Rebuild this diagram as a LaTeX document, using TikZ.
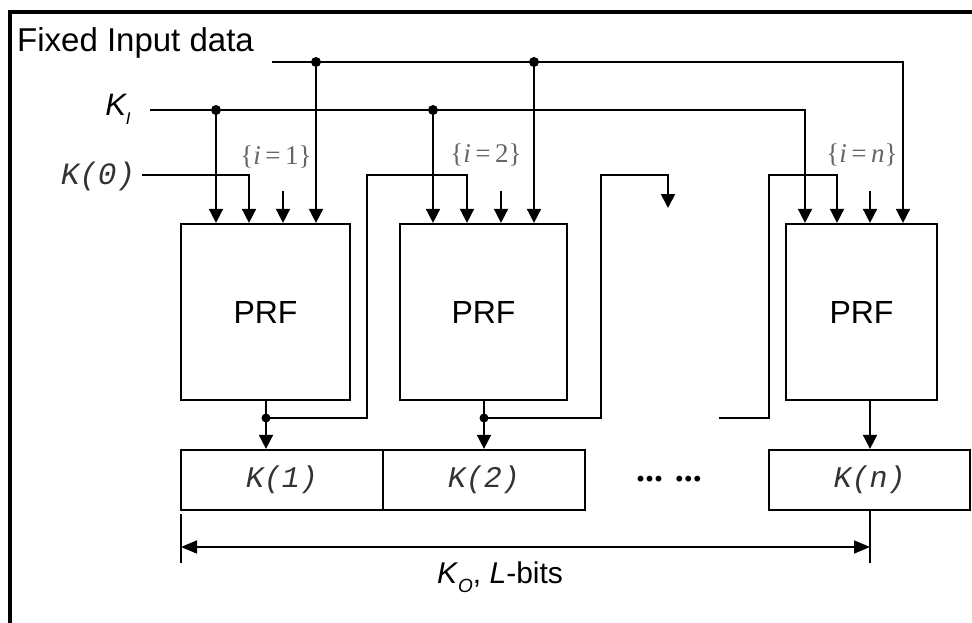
\documentclass[tikz,border=0pt]{standalone}
\usepackage{fontspec}
\setmainfont{Liberation Sans}
\newfontfamily\courfont{Liberation Mono}
\newfontfamily\timesfont{Liberation Serif}
\usetikzlibrary{arrows.meta}

\tikzset{
  wire/.style={line width=1.7pt},
  arr/.style={wire, -{Triangle[width=14pt,length=14pt]}},
  prfbox/.style={draw, line width=2.2pt, minimum width=169pt, minimum height=176pt, inner sep=0pt, font=\fontsize{32}{38}\selectfont},
  keybox/.style={draw, line width=2.2pt, minimum width=202pt, minimum height=60pt, inner sep=0pt, font=\courfont\itshape\fontsize{30}{34}\selectfont, text=black!80},
  idx/.style={font=\timesfont\fontsize{27}{30}\selectfont, text=black!60},
  junction/.style={circle, fill, inner sep=0pt, minimum size=10pt},
}

\begin{document}
\begin{tikzpicture}[x=1pt,y=1pt,yscale=-1,xscale=1]
                    \clip (0,0) rectangle (972,623);
                    %Frame
                    \draw [line width=3.5pt] (10,12) rectangle (995,660) ;

                    %Shape: PRF boxes
                    \node [prfbox] (prf1) at (265.5,312) {PRF};
                    \node [prfbox, minimum width=167pt] (prf2) at (483.5,312) {PRF};
                    \node [prfbox, minimum width=151pt] (prfn) at (861.5,312) {PRF};
                    %Shape: output key boxes
                    \node [keybox] (k1) at (282,480) {K(1)};
                    \node [keybox] (k2) at (484,480) {K(2)};
                    \node [keybox, minimum width=201pt] (kn) at (869.5,480) {K(n)};

                    % Text Node
                    \node [anchor=west, inner sep=0pt, font=\fontsize{33}{38}\selectfont] (fixlbl) at (17,43) {Fixed Input data};
                    % Text Node
                    \node [inner sep=0pt, font=\fontsize{31}{36}\selectfont] (kilbl) at (118,109) {\itshape K\raisebox{-0.3em}{\fontsize{17}{20}\selectfont I}};
                    % Text Node
                    \node [inner sep=0pt, font=\courfont\itshape\fontsize{31}{36}\selectfont, text=black!80] (k0lbl) at (98,176) {K(0)};
                    % Text Node
                    \node [idx] (idx1) at (276,157) {\{\textit{i}\,=\,1\}};
                    \node [idx] (idx2) at (486,155) {\{\textit{i}\,=\,2\}};
                    \node [idx] (idxn) at (862,155) {\{\textit{i}\,=\,\textit{n}\}};
                    % Text Node
                    \node [font=\timesfont\bfseries\fontsize{36}{40}\selectfont] (gap) at (669,479) {...\,\,...};
                    % Text Node
                    \node [font=\fontsize{30}{34}\selectfont] (kolbl) at (500,577) {\textit{K}\raisebox{-0.3em}{\fontsize{19}{22}\selectfont\textit{O}}, \textit{L}-bits};

                    %Straight Lines: fixed input data bus
                    \coordinate (fx0) at (272,62) ;
                    \coordinate (fx1) at (316,62) ;
                    \coordinate (fx2) at (534,62) ;
                    \coordinate (fxn) at (903,62) ;
                    \draw [arr] (fx0) -- (fxn) -- (fxn |- prfn.north) ;
                    \draw [arr] (fx1) -- (fx1 |- prf1.north) ;
                    \draw [arr] (fx2) -- (fx2 |- prf2.north) ;
                    \node [junction] (jf1) at (fx1) {};
                    \node [junction] (jf2) at (fx2) {};

                    %Straight Lines: K_I bus
                    \coordinate (ki0) at (150,110) ;
                    \coordinate (ki1) at (216,110) ;
                    \coordinate (ki2) at (433,110) ;
                    \coordinate (kin) at (805,110) ;
                    \draw [arr] (ki0) -- (kin) -- (kin |- prfn.north) ;
                    \draw [arr] (ki1) -- (ki1 |- prf1.north) ;
                    \draw [arr] (ki2) -- (ki2 |- prf2.north) ;
                    \node [junction] (jk1) at (ki1) {};
                    \node [junction] (jk2) at (ki2) {};

                    %Straight Lines: K(0) into the first PRF
                    \coordinate (in1) at (249,175) ;
                    \draw [arr] ([xshift=7pt]k0lbl.east |- in1) -- (in1) -- (in1 |- prf1.north) ;

                    %Straight Lines: index stubs
                    \coordinate (s1) at (283,191) ;
                    \coordinate (s2) at (501,191) ;
                    \coordinate (sn) at (870,191) ;
                    \draw [arr] (s1) -- (s1 |- prf1.north) ;
                    \draw [arr] (s2) -- (s2 |- prf2.north) ;
                    \draw [arr] (sn) -- (sn |- prfn.north) ;

                    %Straight Lines: outputs and feedback
                    \coordinate (o1) at (266,418) ;
                    \coordinate (o2) at (484,418) ;
                    \draw [arr] (o1 |- prf1.south) -- (o1 |- k1.north) ;
                    \draw [arr] (o2 |- prf2.south) -- (o2 |- k2.north) ;
                    \node [junction, minimum size=9pt] (jo1) at (o1) {};
                    \node [junction, minimum size=9pt] (jo2) at (o2) {};
                    \coordinate (up1) at (367,175) ;
                    \coordinate (in2) at (467,175) ;
                    \draw [arr] (jo1.center) -| (up1) -- (in2) -- (in2 |- prf2.north) ;
                    \coordinate (up2) at (601,175) ;
                    \coordinate (in3) at (668,175) ;
                    \coordinate (end3) at (668,208) ;
                    \draw [arr] (jo2.center) -| (up2) -- (in3) -- (end3) ;
                    \coordinate (fbn) at (719,418) ;
                    \coordinate (upn) at (769,175) ;
                    \coordinate (inn) at (837,175) ;
                    \draw [arr] (fbn) -| (upn) -- (inn) -- (inn |- prfn.north) ;
                    \coordinate (on) at (870,418) ;
                    \draw [arr] (on |- prfn.south) -- (on |- kn.north) ;

                    %Straight Lines: total length
                    \coordinate (dl) at (181,547) ;
                    \coordinate (dr) at (870,547) ;
                    \draw [wire] (181,514) -- (181,563) ;
                    \draw [wire] (dr |- kn.south) -- (870,563) ;
                    \draw [wire, {Triangle[width=13pt,length=16pt]}-{Triangle[width=13pt,length=16pt]}] (dl) -- (dr) ;
\end{tikzpicture}
\end{document}
